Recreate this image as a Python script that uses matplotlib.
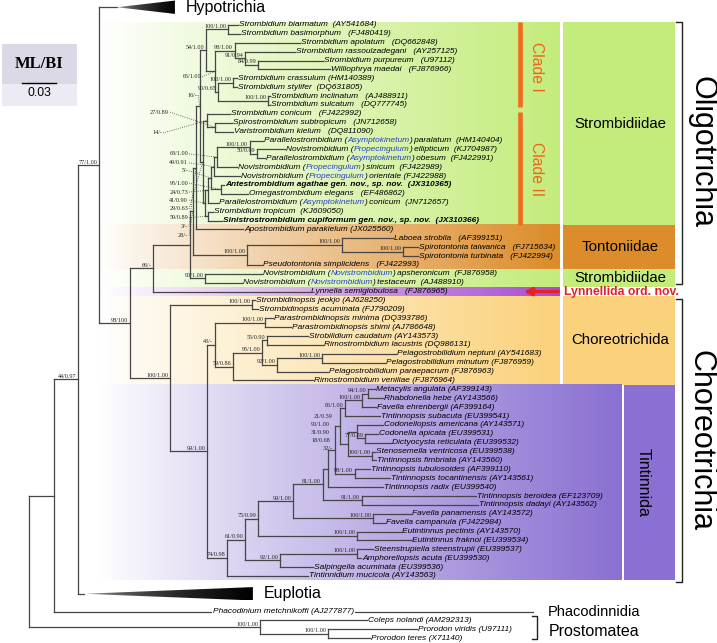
import re
import matplotlib
matplotlib.use("Agg")
import matplotlib.pyplot as plt
import numpy as np
from matplotlib.colors import to_rgb
from matplotlib.collections import LineCollection
from matplotlib.patches import Rectangle, Polygon

# ---------------- data ----------------
# leaf labels, in tree order ({...} = subgenus, printed in blue)
taxa = [
    "Hypotrichia",
    "Strombidium biarmatum  (AY541684)",
    "Strombidium basimorphum   (FJ480419)",
    "Strombidium apolatum   (DQ662848)",
    "Strombidium rassoulzadegani   (AY257125)",
    "Strombidium purpureum   (U97112)",
    "Williophrya maedai   (FJ876966)",
    "Strombidium crassulum (HM140389)",
    "Strombidium stylifer  (DQ631805)",
    "Strombidium inclinatum   (AJ488911)",
    "Strombidium sulcatum   (DQ777745)",
    "Strombidium conicum   (FJ422992)",
    "Spirostrombidium subtropicum   (JN712658)",
    "Varistrombidium kielum   (DQ811090)",
    "Parallelostrombidium ({Asymptokinetum}) paralatum  (HM140404)",
    "Novistrombidium ({Propecingulum}) ellipticum  (KJ704987)",
    "Parallelostrombidium ({Asymptokinetum}) obesum  (FJ422991)",
    "Novistrombidium ({Propecingulum}) sinicum  (FJ422989)",
    "Novistrombidium ({Propecingulum}) orientale (FJ422988)",
    "Antestrombidium agathae gen. nov., sp. nov.  (JX310365)",
    "Omegastrombidium elegans   (EF486862)",
    "Parallelostrombidium ({Asymptokinetum}) conicum  (JN712657)",
    "Strombidium tropicum  (KJ609050)",
    "Sinistrostrombidium cupiformum gen. nov., sp. nov.  (JX310366)",
    "Apostrombidium parakielum (JX025560)",
    "Laboea strobila   (AF399151)",
    "Spirotontonia taiwanica   (FJ715634)",
    "Spirotontonia turbinata   (FJ422994)",
    "Pseudotontonia simplicidens   (FJ422993)",
    "Novistrombidium ({Novistrombidium}) apsheronicum  (FJ876958)",
    "Novistrombidium ({Novistrombidium}) testaceum  (AJ488910)",
    "Lynnella semiglobulosa   (FJ876965)",
    "Strombidinopsis jeokjo (AJ628250)",
    "Strombidinopsis acuminata (FJ790209)",
    "Parastrombidinopsis minima (DQ393786)",
    "Parastrombidinopsis shimi (AJ786648)",
    "Strobilidium caudatum (AY143573)",
    "Rimostrombidium lacustris (DQ986131)",
    "Pelagostrobilidium neptuni (AY541683)",
    "Pelagostrobilidium minutum (FJ876959)",
    "Pelagostrobilidium paraepacrum (FJ876963)",
    "Rimostrombidium veniliae (FJ876964)",
    "Metacylis angulata (AF399143)",
    "Rhabdonella hebe (AY143566)",
    "Favella ehrenbergii (AF399164)",
    "Tintinnopsis subacuta (EU399541)",
    "Codonellopsis americana (AY143571)",
    "Codonella apicata (EU399531)",
    "Dictyocysta reticulata (EU399532)",
    "Stenosemella ventricosa (EU399538)",
    "Tintinnopsis fimbriata (AY143560)",
    "Tintinnopsis tubulosoides (AF399110)",
    "Tintinnopsis tocantinensis (AY143561)",
    "Tintinnopsis radix (EU399540)",
    "Tintinnopsis beroidea (EF123709)",
    "Tintinnopsis dadayi (AY143562)",
    "Favella panamensis (AY143572)",
    "Favella campanula (FJ422984)",
    "Eutintinnus pectinis (AY143570)",
    "Eutintinnus fraknoi (EU399534)",
    "Steenstrupiella steenstrupii (EU399537)",
    "Amphorellopsis acuta (EU399530)",
    "Salpingella acuminata (EU399536)",
    "Tintinnidium mucicola (AY143563)",
    "Euplotia",
    "Phacodinium metchnikoffi (AJ277877)",
    "Coleps nolandi (AM292313)",
    "Prorodon viridis (U97111)",
    "Prorodon teres (X71140)",
]
new_taxa = [19, 23]                       # printed bold
collapsed_depth = {0: 50.9, 64: 148.2}    # collapsed clades, depth in 0.001 subst./site

# sub-trees (Newick, leaves = index in taxa, lengths in 0.001 subst./site, labels ML/BI)
clade_1 = ("((1:8.8,2:10.5)100/1.00:19.3,((3:57.0,(4:43.9,(5:57.0,6:63.1)84/0.99:11.4)91/0.94:8.8)"
           "98/1.00:17.5,((7:3.5,8:3.5)100/1.00:13.2,(9:1.8,10:1.8)100/1.00:43.9)90/0.65:2.6)"
           "65/1.00:7.9)54/1.00:5.3")
clade_2 = ("((11:20.2,(12:14.9,13:15.8)27/0.89:7.0)14/-:3.5,((((((14:11.4,(15:24.6,16:7.0)"
           "50/0.69:6.1)100/1.00:28.9,17:17.5)68/1.00:2.6,18:22.8)49/0.91:2.6,(19:2.6,20:23.7)"
           "95/1.00:8.8)5/-:2.6,21:8.8)24/0.73:2.6,(22:4.4,23:12.3)59/0.89:2.6)41/0.90:1.8)29/0.63:2.6")
tontoniidae = "((25:44.7,(26:13.2,27:13.2)100/1.00:53.5)100/1.00:83.3,28:13.2)100/1.00:47.4"
novistromb = "(29:50.0,30:32.4)90/1.00:13.2"
oligotrichia = ("((((" + clade_1 + "," + clade_2 + ")16/-:3.5,24:41.2)3/-:2.6," + tontoniidae +
                ")28/-:2.6," + novistromb + "):32.4")
choreotrichida = ("((34:7.0,35:22.8)100/1.00:43.9,(((36:36.0,37:49.1)55/0.90:4.4,((38:64.9,39:55.3)"
                  "100/1.00:39.5,40:44.7)92/1.00:13.2)95/1.00:25.4,41:70.2)59/0.86:15.8)43/-:7.0")
tint_crown = ("((((((42:6.1,43:13.2)94/1.00:5.3,44:12.3)100/1.00:14.9,45:30.7)86/1.00:4.4,"
              "((46:22.8,(47:11.4,48:22.8)77/0.89:7.0)21/0.59:7.9,(49:2.6,50:3.5)100/1.00:21.0)"
              "90/1.00:7.0)31/0.90:4.4,(51:13.2,52:30.7)98/1.00:17.5)18/0.68:6.1,53:48.2)32/-:4.4")
tintinnida = ("(((((" + tint_crown + ",(54:100.0,55:101.7)91/1.00:34.2)81/1.00:26.3,"
              "(56:33.3,57:10.5)100/1.00:70.2)99/1.00:30.7,(58:38.6,59:47.4)100/1.00:86.8)75/0.99:11.4,"
              "((60:14.0,61:3.5)100/1.00:67.5,62:28.9)92/1.00:30.7)61/0.90:15.8,63:71.0)74/0.98:17.5")
choreotrichia = "((32:2.6,33:5.3)100/1.00:71.9,(" + choreotrichida + "," + tintinnida + ")99/1.00:32.4)100/1.00:35.1"
prostomatea = "(66:93.8,(67:78.1,68:36.8)100/1.00:59.6)100/1.00:202.6"
tree_nwk = ("((((0:15.8,((" + oligotrichia + ",31:137.7)66/-:20.2," + choreotrichia +
            ")98/100:27.2)77/1.00:18.4,64:5.3)44/0.97:21.0,65:420.1):21.9," + prostomatea + ");")

scale_value = 0.03

# coloured groups: name, first leaf, last leaf
group_names = ["Strombidiidae", "Tontoniidae", "Strombidiidae", "", "Choreotrichida", "Tintinnida"]
group_leaves = [(1, 23), (24, 28), (29, 30), (31, 31), (32, 41), (42, 63)]
group_colors = ["#c4ec7c", "#dc8c2a", "#c4ec7c", "#a64cd2", "#fbd27c", "#8a70d2"]

# ---------------- layout helpers ----------------
PX = 1.14                       # pixels per 0.001 subst./site
ROOT_PX, ROW_PX, ROW1_PX = 29, 8.887, 25


def X(px):
    return (px - ROOT_PX) / PX


def R(py):
    return (py - ROW1_PX) / ROW_PX + 1


def parse(s):
    pos = 0

    def node():
        nonlocal pos
        n = {"children": []}
        if s[pos] == "(":
            pos += 1
            n["children"].append(node())
            while s[pos] == ",":
                pos += 1
                n["children"].append(node())
            pos += 1
        m = re.match(r"[^:,();]*", s[pos:])
        n["name"] = m.group(0)
        pos += m.end()
        n["length"] = 0.0
        if s[pos] == ":":
            m = re.match(r":([0-9.]+)", s[pos:])
            n["length"] = float(m.group(1))
            pos += m.end()
        return n
    return node()


root = parse(tree_nwk)
state = {"row": None, "prev": False}
leaves, internals = [], []


def layout(n, x0):
    n["x"] = x0 + n["length"]
    if n["children"]:
        for c in n["children"]:
            c["parent"] = n
            layout(c, n["x"])
        n["y"] = (n["children"][0]["y"] + n["children"][-1]["y"]) / 2
        n["first"] = n["children"][0]["first"]
        internals.append(n)
    else:
        k = int(n["name"])
        coll = k in collapsed_depth
        if state["row"] is None:
            state["row"] = -1
        else:
            state["row"] += 2 if (coll or state["prev"]) else 1
        state["prev"] = coll
        n["y"] = state["row"]
        n["first"] = k
        n["k"] = k
        leaves.append(n)


layout(root, 0.0)
rows = {n["k"]: n["y"] for n in leaves}

fig = plt.figure(figsize=(7.17, 6.43), dpi=100)
ax = fig.add_axes([0, 0, 1, 1])
ax.set_xlim(X(0), X(717))
ax.set_ylim(R(643), R(0))
ax.axis("off")

# ---------------- coloured panels ----------------
def gradient(x0, x1, y0, y1, color, power=1.0, z=0):
    t = np.linspace(0, 1, 256) ** power
    c = np.array(to_rgb(color))
    img = (1 - t)[:, None] + t[:, None] * c[None, :]
    ax.imshow(img[None], extent=(x0, x1, y1, y0), aspect="auto", zorder=z,
              interpolation="bilinear")


for name, (a, b), col in zip(group_names, group_leaves, group_colors):
    y0, y1 = rows[a] - 0.5, rows[b] + 0.5
    if a == 1:
        y0 = R(22)
    right = X(622) if name == "Tintinnida" else X(560)
    gradient(X(100), right, y0, y1, col, power=0.9 if name else 1.0)
    if name == "Tintinnida":
        ax.add_patch(Rectangle((X(624), y0), X(675) - X(624), y1 - y0, fc=col, ec="none", zorder=0))
        ax.text(X(643), (y0 + y1) / 2, name, rotation=270, ha="center", va="center",
                fontsize=11.5, family="Liberation Sans")
    elif name:
        ax.add_patch(Rectangle((X(563), y0), X(675) - X(563), y1 - y0, fc=col, ec="none", zorder=0))
        yc = R(124) if a == 1 else (y0 + y1) / 2
        ax.text(X(620), yc, name, ha="center", va="center", fontsize=10.8,
                family="Liberation Sans")

# clade bars
for lab, (p0, p1), pc in zip(["Clade I", "Clade II"], [(22, 107), (112, 225)], [67, 169]):
    ax.plot([X(520), X(520)], [R(p0), R(p1)], color="#f26b1d", lw=3.3, solid_capstyle="butt", zorder=2)
    ax.text(X(536), R(pc), lab, rotation=270,
            color="#f0641c", fontsize=11.3, ha="center", va="center", family="Liberation Sans")

# Lynnellida arrow
ly = rows[31]
ax.annotate("", xy=(X(521), ly), xytext=(X(561), ly),
            arrowprops=dict(arrowstyle="-|>", color="#e81e2a", lw=2.4, mutation_scale=11))
ax.text(X(564), ly, "Lynnellida ord. nov.", color="#e81e2a", fontweight="bold", fontsize=8.8,
        va="center", ha="left", family="Liberation Sans")

# brackets
def bracket(x, y0, y1, tick):
    ax.plot([x - tick, x, x, x - tick], [y0, y0, y1, y1], color="#222222", lw=1.0, zorder=3)


bracket(X(682), R(22), R(284), X(682) - X(676))
bracket(X(682), R(299), R(582), X(682) - X(676))
bracket(X(537), R(616), R(639), X(537) - X(532))
ax.text(X(701), R(152), "Oligotrichia", rotation=270, ha="center", va="center", fontsize=22,
        family="Liberation Sans")
ax.text(X(701), R(441), "Choreotrichia", rotation=270, ha="center", va="center", fontsize=22,
        family="Liberation Sans")
ax.text(X(548), rows[65], "Phacodinnidia", ha="left", va="center", fontsize=10.5, family="Liberation Sans")
ax.text(X(549), R(632), "Prostomatea", ha="left", va="center", fontsize=11.5, family="Liberation Sans")

# ---------------- tree ----------------
segs = []
for n in leaves + internals:
    if "parent" in n:
        segs.append([(n["parent"]["x"], n["y"]), (n["x"], n["y"])])
    if n["children"]:
        segs.append([(n["x"], n["children"][0]["y"]), (n["x"], n["children"][-1]["y"])])
ax.add_collection(LineCollection(segs, colors="#464646", linewidths=0.9, capstyle="projecting", zorder=3))

BLUE = "#2340c8"
renderer = fig.canvas.get_renderer()
inv = ax.transData.inverted()


def rich_label(x, y, text, bold=False, **kw):
    for p in re.split(r"(\{[^}]*\})", text):
        if not p:
            continue
        t = ax.text(x, y, p.strip("{}"), color=BLUE if p.startswith("{") else "black",
                    fontsize=6, style="italic", fontweight="bold" if bold else "normal",
                    va="center", ha="left", family="Liberation Sans", zorder=4, **kw)
        bb = t.get_window_extent(renderer)
        x = inv.transform((bb.x1, bb.y0))[0]


for n in leaves:
    k = n["k"]
    if k in collapsed_depth:
        x0, x1, y = n["x"], n["x"] + collapsed_depth[k], n["y"]
        tri = Polygon([(x0, y), (x1, y - 0.75), (x1, y + 0.75)], closed=True, fc="none", ec="none")
        ax.add_patch(tri)
        t = np.linspace(0, 1, 128) ** 0.3
        im = ax.imshow((1 - t)[None, :], cmap="gray", vmin=0, vmax=1, extent=(x0, x1, y + 0.75, y - 0.75),
                       aspect="auto", zorder=3, interpolation="bilinear")
        im.set_clip_path(tri)
        ax.text(x1 + 9.5, y, taxa[k], fontsize=11.5, va="center", ha="left", family="Liberation Sans")
    elif k == 65:
        # long branch: label sits on the line
        rich_label(X(213), n["y"], taxa[k], bbox=dict(fc="white", ec="none", pad=0.6))
    else:
        rich_label(n["x"] + 1.3, n["y"], taxa[k], bold=k in new_taxa)

# support values; crowded ones are stacked (row, right edge px, dotted leader)
label_pos = {
    "65/1.00@3": (6.85, 201, True), "16/-@1": (8.88, 197, True), "27/0.89@12": (10.8, 169, True),
    "14/-@11": (13.15, 162, True), "68/1.00@14": (15.5, 188, True), "49/0.91@14": (16.5, 188, True),
    "5/-@14": (17.4, 188, True), "95/1.00@19": (18.8, 188, True), "24/0.73@14": (19.8, 188, True),
    "41/0.90@14": (20.7, 188, True), "29/0.63@11": (21.7, 188, True), "59/0.89@22": (22.7, 188, True),
    "3/-@1": (23.7, 188, True), "28/-@1": (24.7, 188, True),
    "21/0.59@46": (45.0, 332, False), "90/1.00@46": (45.9, 330, False), "31/0.90@42": (46.8, 330, False),
    "18/0.68@42": (47.7, 330, False), "32/-@42": (48.6, 333, False),
}
for n in internals:
    lab = n["name"]
    if not lab:
        continue
    key = "%s@%d" % (lab, n["first"])
    kw = dict(fontsize=4.4, family="Liberation Serif", color="#222222", zorder=4)
    if key in label_pos:
        r, xr, lead = label_pos[key]
        ax.text(X(xr), r, lab, ha="right", va="center", **kw)
        if lead:
            ax.plot([X(xr + 1), n["x"]], [r, n["y"]], ls=":", lw=0.6, color="#444444", zorder=3)
    else:
        ax.annotate(lab, (n["x"], n["y"]), xytext=(-1.2, 0.4), textcoords="offset points",
                    ha="right", va="bottom", **kw)

# ---------------- ML/BI box and scale bar ----------------
ax.add_patch(Rectangle((X(2), R(44)), X(77) - X(2), R(84) - R(44), fc="#dbd9e5", ec="none"))
ax.add_patch(Rectangle((X(2), R(84)), X(77) - X(2), R(106) - R(84), fc="#ecebf4", ec="none"))
ax.text(X(39.5), R(64), "ML/BI", ha="center", va="center", fontsize=12, fontweight="bold",
        family="Liberation Serif")
sb = scale_value * 1000
ax.plot([X(22), X(22) + sb], [R(83), R(83)], color="black", lw=1.0)
ax.text(X(22) + sb / 2, R(93), "%.2f" % scale_value, ha="center", va="center", fontsize=8.8,
        family="Liberation Sans")

fig.savefig("out.png", dpi=100)
